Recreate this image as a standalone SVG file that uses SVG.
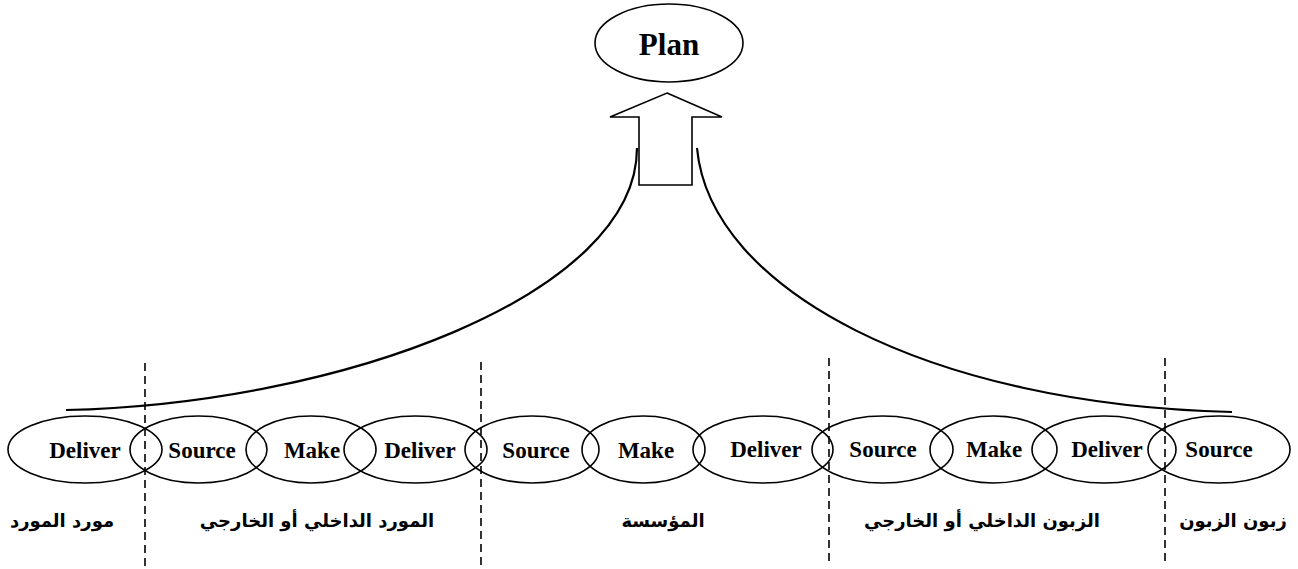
<svg xmlns="http://www.w3.org/2000/svg" width="1298" height="569" viewBox="0 0 1298 569">
  <style>
    .shape { fill: none; stroke: #000; stroke-width: 1.6; }
    .curve { fill: none; stroke: #000; stroke-width: 2.2; }
    .divider { fill: none; stroke: #000; stroke-width: 1.6; stroke-dasharray: 8 5; }
    .step { font-family: "Liberation Serif", "Times New Roman", serif; font-weight: bold; font-size: 23px; text-anchor: middle; fill: #000; }
    .title { font-family: "Liberation Serif", "Times New Roman", serif; font-weight: bold; font-size: 31px; text-anchor: middle; fill: #000; }
    .zone { font-family: "DejaVu Sans", "Noto Sans", sans-serif; font-weight: bold; font-size: 18px; text-anchor: middle; fill: #000; direction: rtl; unicode-bidi: embed; }
  </style>
  <rect width="1298" height="569" fill="#fff"/>

  <!-- planning node -->
  <g id="plan">
    <ellipse class="shape" cx="669" cy="43" rx="74" ry="39"/>
    <text class="title" x="669" y="55">Plan</text>
  </g>

  <!-- block arrow feeding the plan -->
  <g id="plan-arrow">
    <polygon class="shape" points="667,93 722,117 692,117 692,185 639,185 639,117 610,117"/>
  </g>

  <!-- connectors: the chain gathered up into the arrow -->
  <g id="connectors">
    <path class="curve" d="M66,410 C340,404 637,295 637,148"/>
    <path class="curve" d="M697,148 C710,290 930,405 1232,412"/>
  </g>

  <!-- boundaries between the supply-chain parties -->
  <g id="dividers">
    <line class="divider" x1="145" y1="363" x2="145" y2="569"/>
    <line class="divider" x1="481" y1="362" x2="481" y2="569"/>
    <line class="divider" x1="829" y1="358" x2="829" y2="562"/>
    <line class="divider" x1="1165" y1="358" x2="1165" y2="562"/>
  </g>

  <!-- process chain -->
  <g id="n1"><ellipse class="shape" cx="85" cy="449.5" rx="77" ry="33.5"/><text class="step" x="85" y="458">Deliver</text></g>
  <g id="n2"><ellipse class="shape" cx="198.5" cy="449.5" rx="68.5" ry="33.5"/><text class="step" x="202" y="458">Source</text></g>
  <g id="n3"><ellipse class="shape" cx="311" cy="449.5" rx="65" ry="33.5"/><text class="step" x="312" y="458">Make</text></g>
  <g id="n4"><ellipse class="shape" cx="415.5" cy="449.5" rx="71.5" ry="33.5"/><text class="step" x="420" y="458">Deliver</text></g>
  <g id="n5"><ellipse class="shape" cx="532" cy="449.5" rx="67" ry="33.5"/><text class="step" x="536" y="458">Source</text></g>
  <g id="n6"><ellipse class="shape" cx="643.5" cy="449.5" rx="61.5" ry="33.5"/><text class="step" x="646" y="458">Make</text></g>
  <g id="n7"><ellipse class="shape" cx="763" cy="449.5" rx="70" ry="33.5"/><text class="step" x="766" y="457">Deliver</text></g>
  <g id="n8"><ellipse class="shape" cx="882.5" cy="449.5" rx="70.5" ry="33.5"/><text class="step" x="883" y="457">Source</text></g>
  <g id="n9"><ellipse class="shape" cx="993.5" cy="449.5" rx="63.5" ry="33.5"/><text class="step" x="994" y="457">Make</text></g>
  <g id="n10"><ellipse class="shape" cx="1104" cy="449.5" rx="72" ry="33.5"/><text class="step" x="1107" y="457">Deliver</text></g>
  <g id="n11"><ellipse class="shape" cx="1219" cy="449.5" rx="71" ry="33.5"/><text class="step" x="1219" y="457">Source</text></g>

  <!-- party labels -->
  <g id="zones">
    <text class="zone" x="62" y="527">مورد المورد</text>
    <text class="zone" x="317" y="527">المورد الداخلي أو الخارجي</text>
    <text class="zone" x="663" y="527">المؤسسة</text>
    <text class="zone" x="982" y="527">الزبون الداخلي أو الخارجي</text>
    <text class="zone" x="1233" y="527">زبون الزبون</text>
  </g>
</svg>
